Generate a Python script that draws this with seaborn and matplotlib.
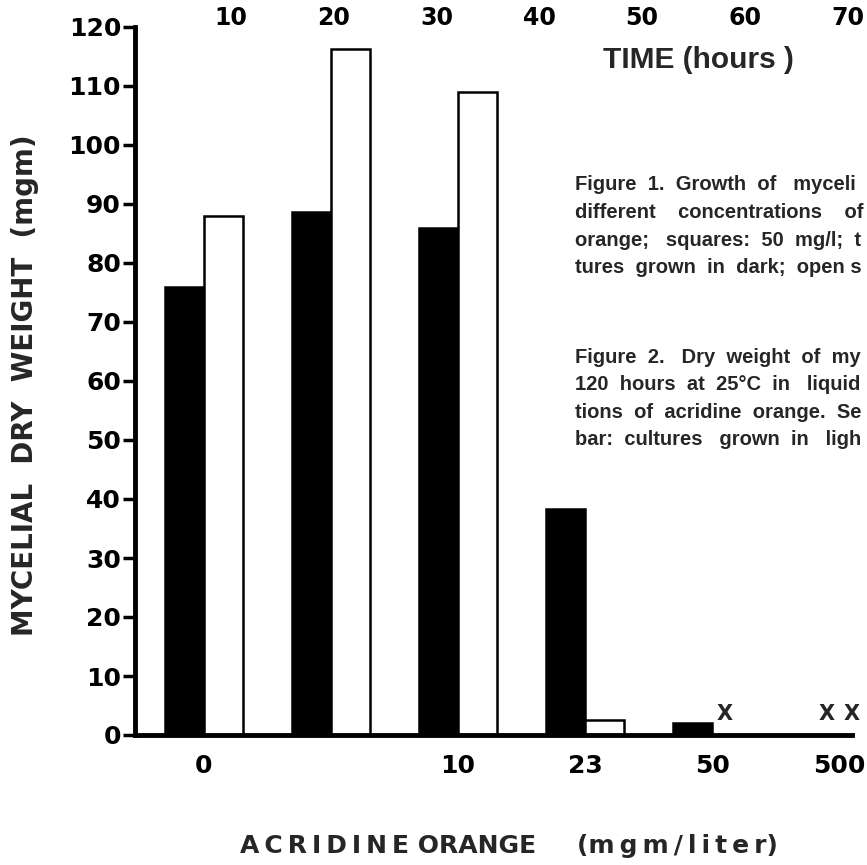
import numpy as np
import pandas as pd
import matplotlib
matplotlib.use("Agg")
import matplotlib.pyplot as plt
import seaborn as sns

# Acridine orange concentration (mgm/liter) printed under each bar pair
concentrations = ["0", "", "10", "23", "50", "500"]
conditions = ["dark", "light"]
# Mycelial dry weight (mgm); NaN = no growth (drawn as X)
dark_weight = [76, 88.6, 86, 38.3, 2, np.nan]
light_weight = [88, 116.2, 109, 2.5, np.nan, np.nan]

yticks = list(range(0, 121, 10))
time_ticks = [10, 20, 30, 40, 50, 60, 70]

caption_lines = [
    "Figure  1.  Growth  of   myceli",
    "different    concentrations    of",
    "orange;   squares:  50  mg/l;  t",
    "tures  grown  in  dark;  open s",
    "Figure  2.   Dry  weight  of  my",
    "120  hours  at  25°C  in   liquid",
    "tions  of  acridine  orange.  Se",
    "bar:  cultures   grown  in   ligh",
]

df = pd.DataFrame({
    "concentration": concentrations * 2,
    "condition": ["dark"] * len(concentrations) + ["light"] * len(concentrations),
    "weight": dark_weight + light_weight,
})

sns.set_theme(style="white")
plt.rcParams["font.family"] = ["DejaVu Sans"]

W, H = 867, 865
fig = plt.figure(figsize=(W / 100, H / 100), dpi=100)
ax = fig.add_axes([135 / W, 130 / H, 717 / W, 708 / H])

sns.barplot(data=df, x="concentration", y="weight", hue="condition",
            order=concentrations, hue_order=conditions,
            palette={"dark": "black", "light": "white"}, saturation=1,
            width=0.61, gap=0, edgecolor="black", linewidth=1.8,
            errorbar=None, legend=False, ax=ax)

# "X" = no growth
for i, c in enumerate(concentrations):
    for off, vals in ((-0.1, dark_weight), (0.1, light_weight)):
        if np.isnan(vals[i]):
            ax.text(i + off, 3.6, "X", ha="center", va="center",
                    fontsize=15, fontweight="bold", clip_on=False)

ax.set_xlim(-0.543, 5.102)
ax.set_ylim(0, 120)
ax.set_yticks(yticks)
ax.set_yticklabels([str(v) for v in yticks])
ax.set_xlabel("")
ax.set_ylabel("")
sns.despine(ax=ax)
for s in ("left", "bottom"):
    ax.spines[s].set_linewidth(3.5)
    ax.spines[s].set_color("black")
ax.tick_params(axis="y", direction="out", length=9, width=2.5, pad=1,
               labelsize=18, colors="black", left=True)
ax.tick_params(axis="x", length=0, pad=14, labelsize=18, colors="black")
for lab in ax.get_xticklabels() + ax.get_yticklabels():
    lab.set_fontweight("bold")

fig.text(25 / W, 1 - 385 / H, "MYCELIAL  DRY  WEIGHT  (mgm)", rotation=90,
         ha="center", va="center", fontsize=20, fontweight="bold")
fig.text(240 / W, 1 - 846 / H,
         "A\u2009C\u2009R\u2009I\u2009D\u2009I\u2009N\u2009E ORANGE",
         ha="left", va="center", fontsize=18, fontweight="bold")
fig.text(577 / W, 1 - 846 / H,
         "(m\u2009g\u2009m\u2009/\u2009l\u2009i\u2009t\u2009e\u2009r)",
         ha="left", va="center", fontsize=18, fontweight="bold")

# top fragment: time axis of the neighbouring figure
ax_t = fig.add_axes([0, (H - 6) / H, 1, 1 / H])
ax_t.set_xlim(-12.52, 71.9)
ax_t.set_xticks(time_ticks)
ax_t.set_xticklabels([str(t) for t in time_ticks], fontsize=17,
                     fontweight="bold")
ax_t.tick_params(axis="x", length=0, pad=0, colors="black")
ax_t.set_yticks([])
ax_t.patch.set_alpha(0)
for s in ax_t.spines.values():
    s.set_visible(False)
fig.text(603 / W, 1 - 60 / H, "TIME (hours )", ha="left", va="center",
         fontsize=21.5, fontweight="bold", family="Liberation Sans")

for k, line in enumerate(caption_lines):
    y = 185 + 27.5 * k if k < 4 else 357 + 27.5 * (k - 4)
    fig.text(575 / W, 1 - y / H, line, ha="left", va="center",
             fontsize=14.5, fontweight="bold", family="Liberation Sans")

fig.savefig("out.png", dpi=100, facecolor="white")
